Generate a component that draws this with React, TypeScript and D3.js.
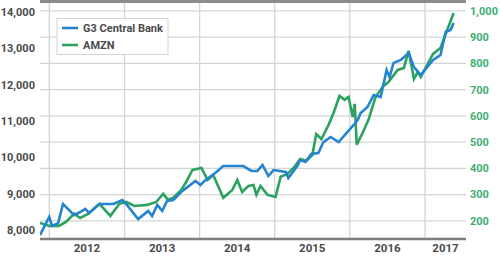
import React from "react";
import * as d3 from "d3";

const g3Dates = [
  "2011-11-17","2012-01-01","2012-01-15","2012-02-13","2012-03-08","2012-05-01","2012-05-30","2012-06-24","2012-07-13","2012-09-01",
  "2012-11-08","2012-12-21","2013-01-05","2013-03-08","2013-04-26","2013-05-15","2013-06-09","2013-07-03","2013-07-27","2013-08-26",
  "2013-10-09","2013-12-12","2014-01-05","2014-01-30","2014-03-18","2014-04-26","2014-08-01","2014-09-10","2014-10-09","2014-11-03",
  "2014-12-01","2014-12-26","2015-02-24","2015-03-08","2015-04-21","2015-05-05","2015-05-30","2015-06-28","2015-08-01","2015-08-26",
  "2015-09-30","2015-11-08","2015-12-21","2016-01-20","2016-02-09","2016-02-23","2016-03-27","2016-04-26","2016-05-30","2016-06-28",
  "2016-07-12","2016-08-01","2016-09-05","2016-10-13","2016-11-08","2016-12-11","2017-02-09","2017-03-17","2017-04-11","2017-05-05",
  "2017-05-20"
];
const g3Values = [
  7860, 8360, 8110, 8190, 8715, 8410, 8495, 8580, 8470, 8715,
  8715, 8825, 8745, 8300, 8525, 8385, 8690, 8525, 8800, 8825,
  9075, 9350, 9240, 9375, 9570, 9760, 9760, 9625, 9625, 9790,
  9485, 9650, 9600, 9430, 9760, 9925, 9870, 10090, 10120, 10420,
  10560, 10420, 10700, 10890, 11030, 11220, 11385, 11715, 11660, 12400,
  12210, 12600, 12680, 12870, 12485, 12265, 12680, 12815, 13450, 13505,
  13700
];

const amznDates = [
  "2011-11-17","2012-01-01","2012-02-18","2012-03-22","2012-05-01","2012-05-30","2012-07-08","2012-09-01","2012-10-24","2012-12-07",
  "2013-01-10","2013-02-18","2013-04-21","2013-06-04","2013-07-08","2013-08-01","2013-08-26","2013-10-04","2013-10-28","2013-11-27",
  "2014-01-10","2014-02-09","2014-03-08","2014-04-26","2014-06-09","2014-07-03","2014-07-27","2014-08-26","2014-09-20","2014-10-04",
  "2014-10-24","2014-11-27","2015-01-05","2015-01-30","2015-03-03","2015-04-07","2015-05-05","2015-06-04","2015-07-03","2015-07-22",
  "2015-08-16","2015-09-20","2015-10-14","2015-11-12","2015-12-07","2015-12-26","2016-01-15","2016-01-25","2016-02-04","2016-03-03",
  "2016-04-01","2016-05-05","2016-06-09","2016-07-08","2016-08-21","2016-09-20","2016-10-13","2016-11-08","2016-11-27","2016-12-11",
  "2017-02-09","2017-03-17","2017-04-11","2017-05-20"
];
const amznValues = [
  192, 181, 181, 196, 227, 211, 227, 265, 219, 265,
  272, 257, 261, 272, 303, 280, 288, 318, 349, 394,
  402, 356, 375, 288, 318, 356, 310, 333, 337, 299,
  333, 299, 291, 368, 379, 406, 436, 429, 451, 531,
  512, 566, 611, 676, 661, 672, 596, 646, 490, 535,
  585, 672, 711, 730, 775, 783, 848, 741, 768, 749,
  836, 859, 912, 992
];

const leftTicks = [8000, 9000, 10000, 11000, 12000, 13000, 14000];
const rightTicks = [200, 300, 400, 500, 600, 700, 800, 900, 1000];
const yearTicks = ["2012", "2013", "2014", "2015", "2016", "2017"];
const seriesNames = ["G3 Central Bank", "AMZN"];
const xDomain = ["2011-11-17", "2017-07-19"];
const leftDomain = [7752, 14275];
const rightDomain = [131, 1034];

const BLUE = "#2484cf";
const GREEN = "#2ba25e";
const GREEN_TEXT = "#3fae73";
const TEXT = "#4a4a4a";
const FONT = "Roboto, 'Liberation Sans', Arial, sans-serif";

export default function App() {
  const parse = d3.timeParse("%Y-%m-%d");
  const L = 40, R = 466, T = 2, B = 239;
  const x = d3.scaleTime().domain(xDomain.map((s) => parse(s) as Date)).range([L, R]);
  const yL = d3.scaleLinear().domain(leftDomain).range([B, T]);
  const yR = d3.scaleLinear().domain(rightDomain).range([B, T]);

  const g3 = g3Dates.map((d, i) => ({ d: parse(d) as Date, v: g3Values[i] }));
  const amzn = amznDates.map((d, i) => ({ d: parse(d) as Date, v: amznValues[i] }));

  const lineL = d3.line<{ d: Date; v: number }>().x((p) => x(p.d)).y((p) => yL(p.v));
  const lineR = d3.line<{ d: Date; v: number }>().x((p) => x(p.d)).y((p) => yR(p.v));

  const yearStarts = yearTicks.map((y) => parse(`${y}-01-01`) as Date);
  const yearLabelX = yearStarts.map((s, i) => {
    const e = i < yearStarts.length - 1 ? yearStarts[i + 1] : (parse(`${+yearTicks[i] + 1}-01-01`) as Date);
    const a = Math.max(x(s), L);
    const b = Math.min(x(e), R);
    return (a + b) / 2;
  });

  return (
    <svg width={500} height={256} style={{ position: "absolute", left: 0, top: 0, background: "#fff" }}>
      <defs>
        <clipPath id="plot">
          <rect x={L} y={T} width={R - L} height={B - T} />
        </clipPath>
      </defs>
      {rightTicks.map((t) => (
        <line key={"h" + t} x1={L} x2={R} y1={yR(t)} y2={yR(t)} stroke="#d4d4d4" strokeWidth={1.3} />
      ))}
      {yearStarts.map((s, i) => (
        <line key={"v" + i} x1={x(s)} x2={x(s)} y1={T} y2={B} stroke="#d4d4d4" strokeWidth={1.3} />
      ))}
      <line x1={L} x2={R} y1={1.5} y2={1.5} stroke="#8c8c8c" strokeWidth={3} />
      <line x1={L} x2={R} y1={B} y2={B} stroke="#7d7d7d" strokeWidth={2.5} />
      {leftTicks.map((t) => (
        <g key={"l" + t}>
          <text x={35} y={yL(t)} dy="0.35em" textAnchor="end" fontFamily={FONT} fontWeight={700} fontSize={11} fill={TEXT}>
            {d3.format(",")(t)}
          </text>
        </g>
      ))}
      {rightTicks.map((t) => (
        <text key={"r" + t} x={470} y={yR(t)} dy="0.35em" textAnchor="start" fontFamily={FONT} fontWeight={700} fontSize={11} fill={GREEN_TEXT}>
          {d3.format(",")(t)}
        </text>
      ))}
      {yearTicks.map((y, i) => (
        <text key={"y" + y} x={yearLabelX[i]} y={252} textAnchor="middle" fontFamily={FONT} fontWeight={700} fontSize={11.5} fill={TEXT}>
          {y}
        </text>
      ))}
      <g clipPath="url(#plot)">
        <path d={lineR(amzn) || ""} fill="none" stroke={GREEN} strokeWidth={2.6} strokeLinejoin="miter" />
        <path d={lineL(g3) || ""} fill="none" stroke={BLUE} strokeWidth={2.6} strokeLinejoin="miter" />
      </g>
      <g>
        <rect x={57} y={18.5} width={111} height={36} fill="#fff" stroke="#d4d4d4" strokeWidth={1} />
        {seriesNames.map((n, i) => (
          <g key={n}>
            <line x1={62} x2={78} y1={28 + i * 17} y2={28 + i * 17} stroke={i === 0 ? BLUE : GREEN} strokeWidth={2.6} />
            <text x={83} y={28 + i * 17} dy="0.35em" fontFamily={FONT} fontWeight={700} fontSize={11} fill={TEXT}>
              {n}
            </text>
          </g>
        ))}
      </g>
    </svg>
  );
}
